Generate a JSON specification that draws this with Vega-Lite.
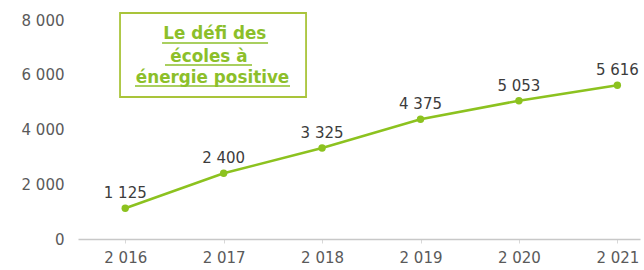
{
  "$schema": "https://vega.github.io/schema/vega-lite/v6.json",
  "autosize": "none",
  "width": 562,
  "height": 219,
  "padding": {"left": 78, "top": 20, "right": 4, "bottom": 31},
  "background": "white",
  "config": {
    "view": {"stroke": null},
    "locale": {"number": {"decimal": ",", "thousands": " ", "grouping": [3], "currency": ["", " €"]}},
    "font": "DejaVu Sans"
  },
  "data": {"values": [
    {"year": 2016, "value": 1125},
    {"year": 2017, "value": 2400},
    {"year": 2018, "value": 3325},
    {"year": 2019, "value": 4375},
    {"year": 2020, "value": 5053},
    {"year": 2021, "value": 5616}
  ]},
  "encoding": {
    "x": {"field": "year", "type": "quantitative",
      "scale": {"domain": [2015.52, 2021.23], "nice": false, "zero": false},
      "axis": {"title": null, "values": [2016, 2017, 2018, 2019, 2020, 2021], "format": ",d",
        "grid": false, "domainColor": "#c8c8c8", "domainWidth": 1.5, "tickColor": "#d8d8d8", "tickSize": 4,
        "labelFont": "DejaVu Sans", "labelFontSize": 15, "labelColor": "#5a5a5a", "labelPadding": 7}},
    "y": {"field": "value", "type": "quantitative",
      "scale": {"domain": [0, 8000], "nice": false},
      "axis": {"title": null, "values": [0, 2000, 4000, 6000, 8000], "format": ",d",
        "grid": false, "domain": false, "ticks": false,
        "labelFont": "DejaVu Sans", "labelFontSize": 15, "labelColor": "#5a5a5a", "labelPadding": 14}}
  },
  "layer": [
    {"mark": {"type": "line", "color": "#8cc21f", "strokeWidth": 2.5}},
    {"mark": {"type": "point", "filled": true, "color": "#8cc21f", "size": 55, "opacity": 1}},
    {"mark": {"type": "text", "dy": -15, "baseline": "middle", "fontSize": 15, "color": "#3c3c3c", "font": "DejaVu Sans"},
      "encoding": {"text": {"field": "value", "type": "quantitative", "format": ",d"}}},
    {"data": {"values": [{"x1": 2015.947, "x2": 2017.837, "y1": 8256, "y2": 5187}]},
      "mark": {"type": "rect", "fill": "white", "fillOpacity": 0, "stroke": "#a9c43a", "strokeWidth": 1.8, "clip": false},
      "encoding": {
        "x": {"field": "x1", "type": "quantitative"}, "x2": {"field": "x2"},
        "y": {"field": "y1", "type": "quantitative"}, "y2": {"field": "y2"}}},
    {"data": {"values": [
      {"t": "Le défi des", "x": 2016.91, "y": 7306},
      {"t": "écoles à", "x": 2016.85, "y": 6466},
      {"t": "énergie positive", "x": 2016.887, "y": 5699}]},
      "mark": {"type": "text", "font": "DejaVu Sans", "fontWeight": "bold", "fontSize": 16.8, "color": "#8cbf2a", "baseline": "alphabetic", "align": "center", "clip": false},
      "encoding": {
        "x": {"field": "x", "type": "quantitative"},
        "y": {"field": "y", "type": "quantitative"},
        "text": {"field": "t"}}},
    {"data": {"values": [
      {"a": 2016.374, "b": 2017.451, "y": 7160},
      {"a": 2016.404, "b": 2017.288, "y": 6356},
      {"a": 2016.099, "b": 2017.674, "y": 5589}]},
      "mark": {"type": "rule", "color": "#8cbf2a", "strokeWidth": 1.3},
      "encoding": {
        "x": {"field": "a", "type": "quantitative"}, "x2": {"field": "b"},
        "y": {"field": "y", "type": "quantitative"}}}
  ]
}
